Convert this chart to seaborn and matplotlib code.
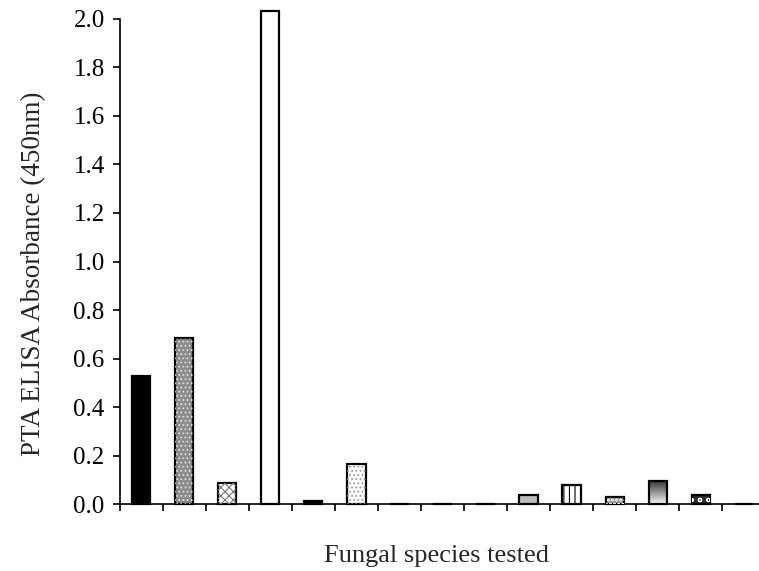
import numpy as np
import pandas as pd
import matplotlib
matplotlib.use("Agg")
import matplotlib.pyplot as plt
import seaborn as sns

categories = [str(i) for i in range(1, 16)]
values = [0.528, 0.685, 0.087, 2.033, 0.012, 0.165, 0.0, 0.0, 0.0,
          0.037, 0.078, 0.029, 0.095, 0.037, 0.0]
face_colors = ["#000000", "#8c8c8c", "#ffffff", "#ffffff", "#000000", "#ffffff",
               "#ffffff", "#ffffff", "#ffffff", "#bdbdbd", "#ffffff", "#9a9a9a",
               "#ffffff", "#2a2a2a", "#ffffff"]
hatches = [None, "....", "xxxx", None, None, "....", None, None, None,
           None, "|||", "oooo", None, "oo", None]
hatch_colors = [None, "#dcdcdc", "#777777", None, None, "#999999", None, None, None,
                None, "#000000", "#e0e0e0", None, "#ffffff", None]
gradient_idx = [12]

df = pd.DataFrame({"cat": categories, "val": values})

sns.set_style("ticks")
plt.rcParams["font.family"] = ["Liberation Serif", "DejaVu Serif"]
plt.rcParams["hatch.linewidth"] = 0.8

fig = plt.figure(figsize=(7.59, 5.71), dpi=100)
ax = fig.add_axes([0.158, 0.117, 0.85, 0.85])

sns.barplot(data=df, x="cat", y="val", hue="cat", palette=face_colors,
            legend=False, width=0.42, edgecolor="black", linewidth=1.6,
            saturation=1, ax=ax, zorder=2)

for i, p in enumerate(ax.patches):
    p.set_clip_on(False)
    x0, w, h = p.get_x(), p.get_width(), p.get_height()
    if hatches[i] is not None and h > 0:
        ax.bar(x0, h, width=w, align="edge", facecolor="none",
               edgecolor=hatch_colors[i], hatch=hatches[i], linewidth=0,
               zorder=3)
    if i in gradient_idx and h > 0:
        grad = np.linspace(0, 1, 100).reshape(-1, 1)
        im = ax.imshow(grad, cmap="gray", vmin=-0.25, vmax=1.05,
                       extent=[x0, x0 + w, 0, h], origin="upper",
                       aspect="auto", zorder=2.5)
        im.set_clip_path(p)
        p.set_zorder(2.6)
        p.set_facecolor("none")

ax.set_xlim(-0.5, 14.5)
ax.set_ylim(0, 2.0)
ax.set_yticks(np.arange(0, 2.01, 0.2))
ax.set_yticklabels([f"{v:.1f}" for v in np.arange(0, 2.01, 0.2)], fontsize=18)
ax.set_xticks(np.arange(-0.5, 15.0, 1.0))
ax.set_xticklabels([])
ax.tick_params(axis="both", direction="out", length=5, width=1.2, colors="black",
               pad=6)
ax.set_ylabel("PTA ELISA Absorbance (450nm)", fontsize=19.5)
ax.yaxis.set_label_coords(-0.115, 0.474)
ax.set_xlabel("Fungal species tested", fontsize=19)
ax.xaxis.set_label_coords(0.491, -0.085)
sns.despine(ax=ax)
for s in ["left", "bottom"]:
    ax.spines[s].set_linewidth(1.2)
    ax.spines[s].set_color("black")

fig.savefig("out.png", dpi=100)
